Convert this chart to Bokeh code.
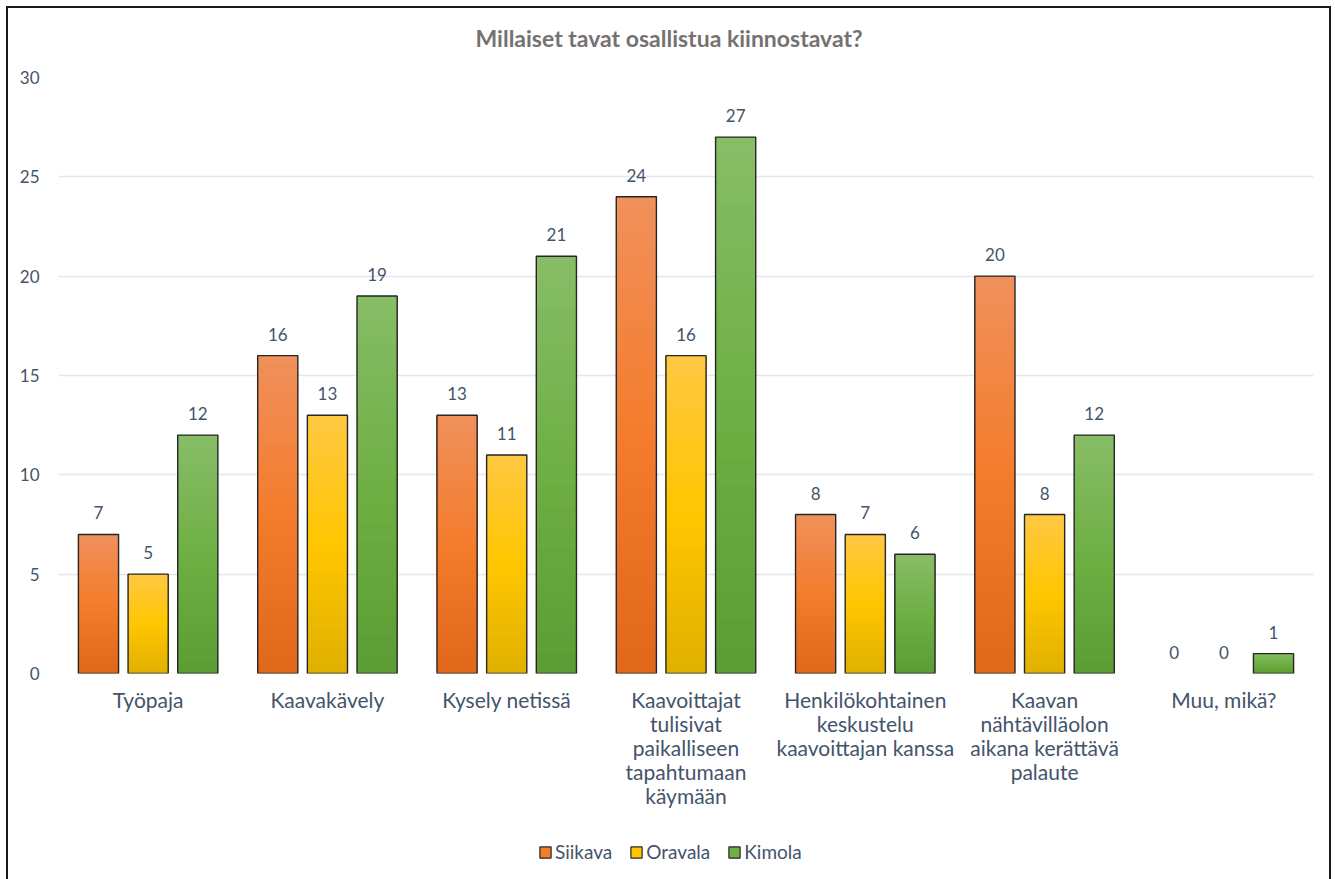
import numpy as np
from bokeh.plotting import figure
from bokeh.layouts import column
from bokeh.models import (ColumnDataSource, FixedTicker, Legend, LegendItem, Range1d, LinearAxis)
from bokeh.core.properties import value
from bokeh.embed import file_html
from bokeh.resources import INLINE

# ---------------- data ----------------
categories = [
    "Työpaja",
    "Kaavakävely",
    "Kysely netissä",
    "Kaavoittajat tulisivat paikalliseen tapahtumaan käymään",
    "Henkilökohtainen keskustelu kaavoittajan kanssa",
    "Kaavan nähtävilläolon aikana kerättävä palaute",
    "Muu, mikä?",
]
category_lines = [
    ["Työpaja"],
    ["Kaavakävely"],
    ["Kysely netissä"],
    ["Kaavoittajat", "tulisivat", "paikalliseen", "tapahtumaan", "käymään"],
    ["Henkilökohtainen", "keskustelu", "kaavoittajan kanssa"],
    ["Kaavan", "nähtävilläolon", "aikana kerättävä", "palaute"],
    ["Muu, mikä?"],
]
series_names = ["Siikava", "Oravala", "Kimola"]
siikava = [7, 16, 13, 24, 8, 20, 0]
oravala = [5, 13, 11, 16, 7, 8, 0]
kimola = [12, 19, 21, 27, 6, 12, 1]
y_ticks = [0, 5, 10, 15, 20, 25, 30]
title_text = "Millaiset tavat osallistua kiinnostavat?"

# ---------------- style ----------------
FONT = "Lato"
TXT = "#44546A"
BORDER = "2px solid #1a1a1a"
gradients = [
    ["#F0905C", "#F47C2C", "#E0671B"],
    ["#FFC843", "#FFC600", "#E0B000"],
    ["#87BD67", "#6FAF44", "#5B9D34"],
]
legend_colors = ["#F47C2C", "#FFC600", "#6FAF44"]
offsets = [-0.277, 0.0, 0.277]
BAR_W = 0.224
N = 40

centers = [i + 0.5 for i in range(len(categories))]


def hex2rgb(h):
    h = h.lstrip("#")
    return np.array([int(h[i:i + 2], 16) for i in (0, 2, 4)], dtype=float)


def grad_color(stops, t):
    a, b, c = [hex2rgb(s) for s in stops]
    if t <= 0.5:
        col = a + (b - a) * (t / 0.5)
    else:
        col = b + (c - b) * ((t - 0.5) / 0.5)
    return "#%02x%02x%02x" % tuple(int(round(v)) for v in col)


p = figure(
    x_range=Range1d(0, len(categories)),
    y_range=Range1d(0, 30),
    width=1325, height=826,
    output_backend="svg", toolbar_location=None,
    min_border_left=50, min_border_right=20, min_border_top=69, min_border_bottom=161,
)
p.styles = {"border-left": BORDER, "border-right": BORDER, "border-top": BORDER,
            "margin-left": "6px", "margin-top": "6px"}
p.outline_line_color = None
p.background_fill_color = "white"
p.border_fill_color = "white"

p.title.text = title_text
p.title.align = "left"
p.title.offset = 417
p.title.text_font = FONT
p.title.text_font_size = "23px"
p.title.text_font_style = "bold"
p.title.text_color = "#767171"

series_values = [siikava, oravala, kimola]
for s, (name, vals, stops, off) in enumerate(zip(series_names, series_values, gradients, offsets)):
    xs, bottoms, tops, cols = [], [], [], []
    for c, v in zip(centers, vals):
        for i in range(N):
            xs.append(c + off)
            bottoms.append(v * i / N)
            tops.append(v)
            cols.append(grad_color(stops, 1 - (i + 0.5) / N))
    src = ColumnDataSource(dict(x=xs, bottom=bottoms, top=tops, color=cols))
    p.vbar(x="x", bottom="bottom", top="top", width=BAR_W,
           source=src, fill_color="color", line_color=None)
    osrc = ColumnDataSource(dict(x=[c + off for c in centers], top=vals,
                                 la=[1.0 if v > 0 else 0.0 for v in vals],
                                 lbl=[str(v) for v in vals]))
    p.vbar(x="x", bottom=0, top="top", width=BAR_W, source=osrc,
           fill_alpha=0, line_color="#262626", line_width=1.4, line_alpha="la")
    p.text(x="x", y="top", text="lbl", source=osrc,
           text_align="center", text_baseline="bottom", y_offset=-15,
           text_font=value(FONT), text_font_size="17px", text_color=TXT)

# y axis
yax = p.left[0]
yax.ticker = FixedTicker(ticks=y_ticks)
yax.axis_line_color = None
yax.major_tick_line_color = None
yax.minor_tick_line_color = None
yax.major_label_standoff = 13
yax.major_label_text_font = FONT
yax.major_label_text_font_size = "17px"
yax.major_label_text_color = TXT


def style_axis(ax, standoff, size="21px"):
    ax.ticker = FixedTicker(ticks=centers)
    ax.axis_line_color = None
    ax.major_tick_line_color = None
    ax.minor_tick_line_color = None
    ax.major_label_standoff = standoff
    ax.major_label_text_font = FONT
    ax.major_label_text_font_size = size
    ax.major_label_text_color = TXT
    ax.major_label_orientation = "horizontal"


def line_map(k):
    return {c: (lines[k] if k < len(lines) else " ") for c, lines in zip(centers, category_lines)}


n_lines = max(len(l) for l in category_lines)
xax0 = p.below[0]
style_axis(xax0, 7)
xax0.major_label_overrides = line_map(0)
for k in range(1, n_lines):
    ax = LinearAxis(major_label_overrides=line_map(k))
    style_axis(ax, -10)
    p.add_layout(ax, "below")

# spacer between title and frame
top_spacer = LinearAxis(major_label_overrides={c: " " for c in centers})
style_axis(top_spacer, 0, "10px")
p.add_layout(top_spacer, "above")

p.xgrid.grid_line_color = None
p.ygrid.grid_line_color = "#E3E6EA"
p.ygrid.grid_line_width = 1.3

# ---------------- legend strip ----------------
lf = figure(width=1325, height=47, x_range=Range1d(0, 1), y_range=Range1d(0, 1),
            output_backend="svg", toolbar_location=None,
            x_axis_type=None, y_axis_type=None,
            min_border_left=0, min_border_right=0, min_border_top=0, min_border_bottom=0)
lf.styles = {"border-left": BORDER, "border-right": BORDER, "margin-left": "6px"}
lf.outline_line_color = None
lf.xgrid.grid_line_color = None
lf.ygrid.grid_line_color = None
lf.background_fill_color = "white"
lf.border_fill_color = "white"

legend_items = []
for name, col in zip(series_names, legend_colors):
    r = lf.vbar(x=[0.5], top=[1], width=0.1, fill_color=col, line_color="#262626", line_width=1.2)
    r.visible = False
    legend_items.append(LegendItem(label=name, renderers=[r]))

legend = Legend(items=legend_items, orientation="horizontal", location=(480, 16),
                padding=0, margin=0, spacing=17, label_standoff=3,
                glyph_width=14, glyph_height=14,
                label_text_font=FONT, label_text_font_size="19px", label_text_color=TXT,
                background_fill_alpha=0, border_line_color=None)
lf.add_layout(legend, "center")

layout = column(p, lf, spacing=0)
open("out.html", "w").write(file_html(layout, INLINE))
